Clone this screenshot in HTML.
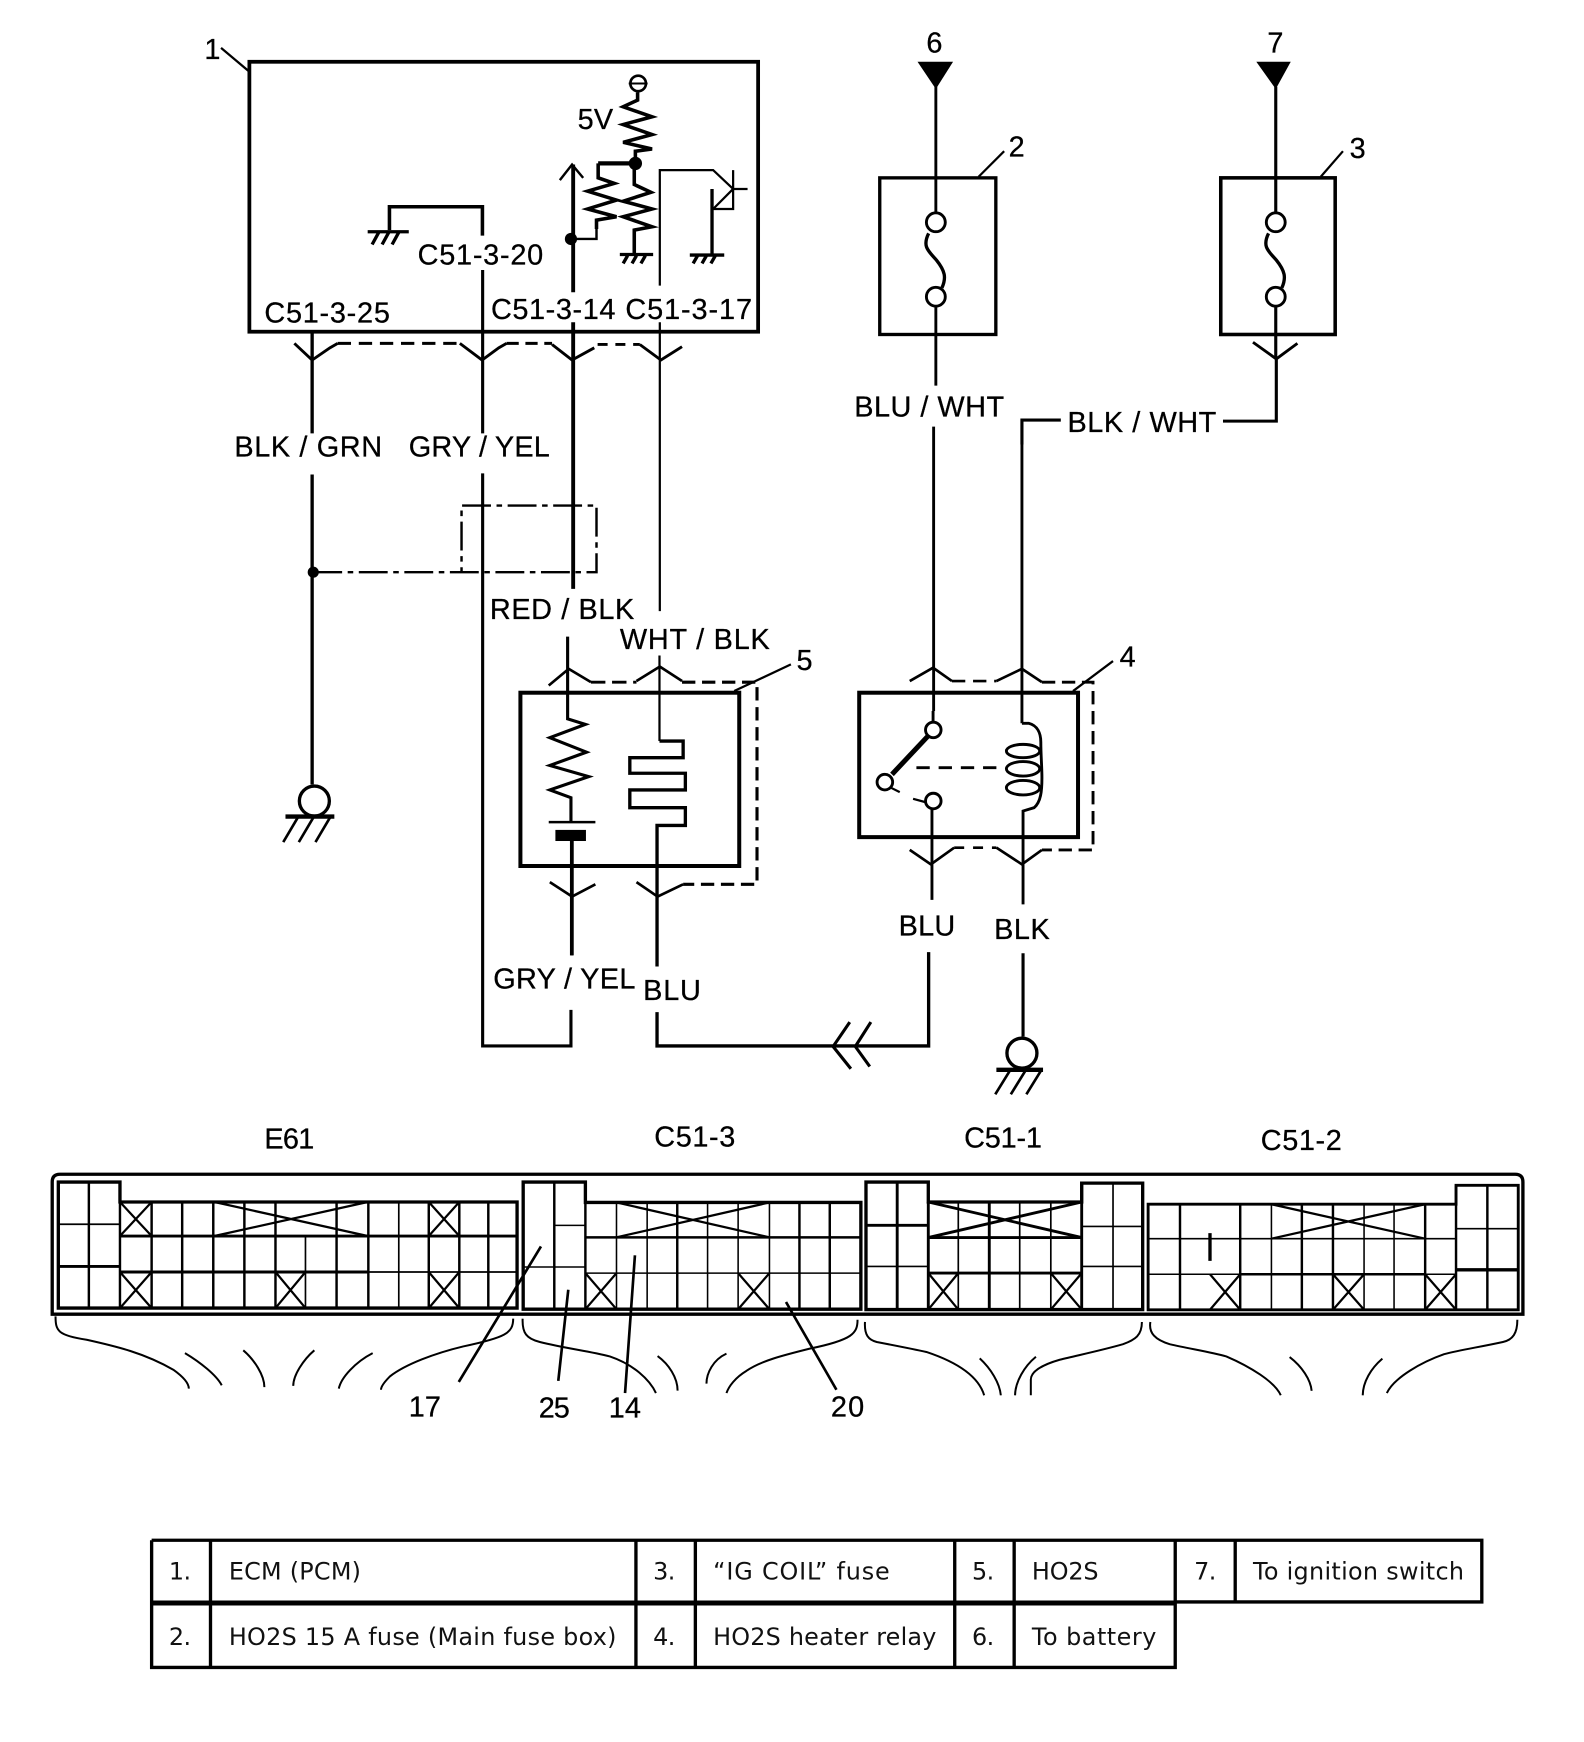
<!DOCTYPE html>
<html><head><meta charset="utf-8">
<style>
html,body{margin:0;padding:0;background:#fff}
svg{display:block}
text{font-family:"Liberation Sans",sans-serif;font-size:26px;fill:#000;stroke:#000;stroke-width:.25px}
.t text{font-family:"DejaVu Sans",sans-serif;font-size:21.5px;fill:#111;stroke:none}
.s{fill:none;stroke:#000;stroke-linejoin:miter}
</style></head><body>
<svg width="1584" height="1742" viewBox="0 0 1426 1568" xmlns="http://www.w3.org/2000/svg">
<rect width="1426" height="1568" fill="#fff"/>

<!-- ECM -->
<rect class="s" x="224.5" y="55.5" width="458" height="243" stroke-width="3.4"/>
<path class="s" stroke-width="2" d="M199,43L224,64"/>
<path class="s" stroke-width="3.2" d="M350.6,207V186H434.3V212"/>
<path class="s" stroke-width="3" d="M331,208.5H368M335,220L341,209M344,220L350,209M353,220L359,209"/>
<path class="s" stroke-width="2.8" d="M434.5,243V390M434.5,426V941.5H514V909M514.5,860V757"/>
<path class="s" stroke-width="3" d="M281,300V390M281,427V706"/>
<path class="s" stroke-width="3.5" d="M516,148V263M516,290V530"/>
<path class="s" stroke-width="2.2" d="M504,162L515,148L525,160"/>
<circle cx="514" cy="215" r="5.5"/>
<path class="s" stroke-width="2.2" d="M516,215H537V206"/>
<path class="s" stroke-width="3.2" d="M537,206V198L555,195L529,188L555,180L529,172L553,165L538.5,160V147"/>
<path class="s" stroke-width="3.8" d="M538.5,147H572"/>
<circle cx="572" cy="147" r="6"/>
<circle class="s" cx="574.5" cy="75" r="7" fill="#fff" stroke-width="2.4"/>
<path class="s" stroke-width="1.8" d="M566,75H583"/>
<path class="s" stroke-width="3.2" d="M574,83V90L561,96L587,105L561,112L587,121L561,128L587,134L572,136V147"/>
<path class="s" stroke-width="3.2" d="M571,147V166L586,173L561,181L587,188L561,195L587,204L571,207V229"/>
<path class="s" stroke-width="3" d="M558,229H588M561,237L565,230M569,237L573,230M577,237L581,230"/>
<path class="s" stroke-width="2" d="M594,257V153H642L660,170"/>
<path class="s" stroke-width="2" d="M660,153V188H642L660,170M660,170H673"/>
<path class="s" stroke-width="3" d="M641,170V229"/>
<path class="s" stroke-width="3" d="M621,229.5H652M624,237L628,230M632,237L636,230M640,237L644,230"/>
<path class="s" stroke-width="2" d="M594,290V550M593.7,590V667"/>

<!-- connector wings under ECM -->
<path class="s" stroke-width="2.6" d="M265,309L281,324L297,313L304,309M414,309L434,324L449,313L456,309M497,310L515,324L535,313M576,310L595,324L614,312"/>
<path class="s" stroke-width="2.6" stroke-dasharray="12 7" d="M304,309H414"/>
<path class="s" stroke-width="2.6" stroke-dasharray="11 6" d="M456,309H497"/>
<path class="s" stroke-width="2.6" stroke-dasharray="9 7" d="M538,310H576"/>

<!-- shield -->
<path class="s" stroke-width="2.2" stroke-dasharray="26 5 5 5" d="M282,515H537V455H415.5V515"/>
<circle cx="282" cy="515" r="5"/>

<!-- ground left -->
<circle class="s" cx="283" cy="721" r="13.5" stroke-width="3" fill="#fff"/>
<path class="s" stroke-width="4" d="M257,735H301"/>
<path class="s" stroke-width="2.4" d="M268,736L255,758M282,736L269,758M297,736L284,758"/>

<!-- HO2S box 5 -->
<rect class="s" x="468.5" y="623.5" width="197" height="156" stroke-width="3.6"/>
<path class="s" stroke-width="2.8" d="M511,573V647L527,652L495,664L528,677L495,689L530,699L495,711L514,718V740"/>
<path class="s" stroke-width="2.2" d="M494,740H536"/>
<rect x="500" y="747" width="27.5" height="10"/>
<path class="s" stroke-width="3" d="M515,757V860"/>
<path class="s" stroke-width="3" d="M593.7,667H615V682H567V696H617V711H567V727H617V743H591.5V870M591.5,911V941.5H836V857"/>
<path class="s" stroke-width="2.4" d="M494,617L512,602L532,614M573,613L594,600L614,613"/>
<path class="s" stroke-width="2.6" stroke-dasharray="13 6" d="M532,614H573"/>
<path class="s" stroke-width="2.8" stroke-dasharray="12 6" d="M614,614H681.5V796H615"/>
<path class="s" stroke-width="2.4" d="M495,794L515,807L536,796M573,794L592,807L615,796"/>
<path class="s" stroke-width="2" d="M661,622L712,598"/>

<!-- fuse 2 -->
<rect class="s" x="792" y="160" width="104.5" height="141" stroke-width="3"/>
<path d="M826,55.5H858L842.5,80Z"/>
<path class="s" stroke-width="2.6" d="M842.5,78V191M842.5,276V347M840.5,384V640"/>
<circle class="s" cx="842.5" cy="200" r="8.5" fill="#fff" stroke-width="2.6"/>
<circle class="s" cx="842.5" cy="267" r="8.5" fill="#fff" stroke-width="2.6"/>
<path class="s" stroke-width="3" d="M836,210C830,222 836,226 843,234C851,244 852,250 848,259"/>
<path class="s" stroke-width="2" d="M881,159L904,136"/>

<!-- fuse 3 -->
<rect class="s" x="1099" y="160" width="103" height="141" stroke-width="3.2"/>
<path d="M1131,55.5H1162L1148.5,80Z"/>
<path class="s" stroke-width="2.8" d="M1148.5,78V191M1148.5,276V322M1149,322V379H1101"/>
<circle class="s" cx="1148.5" cy="200" r="8.5" fill="#fff" stroke-width="2.6"/>
<circle class="s" cx="1148.5" cy="267" r="8.5" fill="#fff" stroke-width="2.6"/>
<path class="s" stroke-width="3" d="M1142,210C1136,222 1142,226 1149,234C1157,244 1158,250 1154,259"/>
<path class="s" stroke-width="2.6" d="M1128,308L1149,323L1168,309"/>
<path class="s" stroke-width="2" d="M1189,159L1209,136"/>
<path class="s" stroke-width="2.8" d="M955,378H920V400"/>
<path class="s" stroke-width="2.6" d="M920,378V651"/>

<!-- relay 4 -->
<rect class="s" x="773.5" y="623.5" width="197" height="130" stroke-width="3.6"/>
<circle class="s" cx="840.2" cy="657" r="7" fill="#fff" stroke-width="2.6"/>
<circle class="s" cx="796.6" cy="704" r="7" fill="#fff" stroke-width="2.6"/>
<circle class="s" cx="840.2" cy="721" r="7" fill="#fff" stroke-width="2.6"/>
<path class="s" stroke-width="4.5" d="M803,697L835,663"/>
<path class="s" stroke-width="2" d="M802,709L810,713M822,719L833,722"/>
<path class="s" stroke-width="2.6" stroke-dasharray="12 8" d="M825,691H901"/>
<path class="s" stroke-width="2.6" d="M840,640V650M839,728V810"/>
<path class="s" stroke-width="2.6" d="M920,651H926C934,653 937,660 937,668C937,680 938,690 938,700C938,712 937,722 931,727L921,730V814"/>
<ellipse class="s" cx="921" cy="676" rx="15" ry="6" stroke-width="2.6"/>
<ellipse class="s" cx="921" cy="692" rx="15" ry="6.5" stroke-width="2.6"/>
<ellipse class="s" cx="921" cy="709" rx="15" ry="6.5" stroke-width="2.6"/>
<path class="s" stroke-width="2.4" d="M819,613L840,601L857,613M897,613L920,602L938,614"/>
<path class="s" stroke-width="2.4" stroke-dasharray="12 7" d="M857,613H897"/>
<path class="s" stroke-width="2.6" stroke-dasharray="12 6" d="M938,614H984V765H938"/>
<path class="s" stroke-width="2.4" d="M819,765L838,778L859,763M897,763L920,778L938,765"/>
<path class="s" stroke-width="2.4" stroke-dasharray="9 8" d="M859,763H897"/>
<path class="s" stroke-width="2" d="M966,622L1002,595"/>
<path class="s" stroke-width="2.8" d="M921,858V933"/>
<circle class="s" cx="920" cy="948" r="13.5" stroke-width="3" fill="#fff"/>
<path class="s" stroke-width="4" d="M897,963H939"/>
<path class="s" stroke-width="2.4" d="M909,964L896,985M923,964L910,985M937,964L924,985"/>
<path class="s" stroke-width="2.8" d="M765,920L750,942L766,962M784,920L770,942L783,960"/>

<!-- Connector panel -->
<path class="s" stroke-width="3" d="M47,1064Q47,1057 54,1057H1364Q1371,1057 1371,1064V1183H47Z"/>

<!-- E61 -->
<path class="s" stroke-width="3" d="M52.5,1177.5V1064H108V1082H465.5V1177.5Z"/>
<path class="s" stroke-width="2.2" d="M80,1064V1177.5M108,1082V1177.5M136.5,1082V1177.5M164,1082V1177.5M192,1082V1177.5M220,1082V1177.5M248,1082V1177.5M303,1082V1177.5M331.6,1082V1177.5M386,1082V1177.5M413.5,1082V1177.5M439.6,1082V1177.5"/>
<path class="s" stroke-width="2.6" d="M108,1112.6H465.5M108,1145H331M52.5,1140H108"/>
<path class="s" stroke-width="1.5" d="M331,1145H465M275,1112V1177M359,1082V1177M52.5,1102H108"/>
<path class="s" stroke-width="2" d="M108,1082L136.5,1112.6M136.5,1082L108,1112.6M108,1145L136.5,1177.5M136.5,1145L108,1177.5M386,1082L413.5,1112.6M413.5,1082L386,1112.6M386,1145L413.5,1177.5M413.5,1145L386,1177.5M248,1145L275,1177.5M275,1145L248,1177.5M193,1082L331,1112.6M331,1082L193,1112.6"/>

<!-- C51-3 -->
<path class="s" stroke-width="3" d="M471,1178.5V1064H527V1082.4H775V1178.5Z"/>
<path class="s" stroke-width="2.2" d="M499,1064V1178.5M527,1082.4V1178.5M609.7,1082.4V1178.5M719.7,1082.4V1178.5M747,1082.4V1178.5M527,1113.8H775"/>
<path class="s" stroke-width="1.4" d="M555,1082.4V1178.5M582.6,1082.4V1178.5M637,1082.4V1178.5M664.5,1082.4V1178.5M692.7,1082.4V1178.5M527,1146H775M499,1103H527M471,1140.5H527"/>
<path class="s" stroke-width="2" d="M527,1146L555,1178.5M555,1146L527,1178.5M664.5,1146L692.7,1178.5M692.7,1146L664.5,1178.5M555,1082.4L692.7,1113.8M692.7,1082.4L555,1113.8"/>

<!-- C51-1 -->
<path class="s" stroke-width="3" d="M779.6,1178.8V1064H835.7V1082H973.8V1065H1028.7V1178.8Z"/>
<path class="s" stroke-width="2.6" d="M807.7,1064V1178.8M835.7,1082V1178.8M890.6,1082V1178.8M779.6,1103H835.7M835.7,1114H973.8M835.7,1146H973.8M973.8,1065V1178.8"/>
<path class="s" stroke-width="1.5" d="M862.7,1082V1178.8M918,1082V1178.8M946,1082V1178.8M1002,1065V1178.8M973.8,1104H1028.7M779.6,1140H835.7M973.8,1140H1028.7"/>
<path class="s" stroke-width="2" d="M835.7,1146L862.7,1178.8M862.7,1146L835.7,1178.8M946,1146L973.8,1178.8M973.8,1146L946,1178.8"/>
<path class="s" stroke-width="2.6" d="M835.7,1082L973.8,1114M973.8,1082L835.7,1114"/>

<!-- C51-2 -->
<path class="s" stroke-width="2.6" d="M1033.6,1179V1084H1310.8V1067H1366.8V1179Z"/>
<path class="s" stroke-width="2.2" d="M1062.3,1084V1179M1116.5,1084V1179M1172,1084V1179M1200,1084V1179M1283,1084V1179M1339,1067V1179M1310.8,1067V1179M1116,1147H1283"/>
<path class="s" stroke-width="1.4" d="M1033.6,1115H1310.8M1033.6,1147H1116M1228,1084V1179M1255,1084V1179M1283,1147H1311M1144.6,1084V1179M1310.8,1106H1366.8"/>
<path class="s" stroke-width="3" d="M1310.8,1143H1366.8M1089.3,1110V1135"/>
<path class="s" stroke-width="2" d="M1089.3,1147L1116.5,1179M1116.5,1147L1089.3,1179M1200,1147L1228,1179M1228,1147L1200,1179M1283,1147L1310.8,1179M1310.8,1147L1283,1179M1144.6,1084L1283,1115M1283,1084L1144.6,1115"/>

<!-- braces -->
<g class="s" fill="none" stroke="#000" stroke-width="1.8">
<path d="M50,1185C50,1198 52,1202 78,1206C105,1212 130,1218 156,1233C163,1238 170,1244 170,1250"/>
<path d="M462,1187C462,1200 455,1204 417,1212C392,1218 365,1228 351,1239C346,1244 343,1248 343,1251"/>
<path d="M166.5,1218C180,1226 195,1238 199.6,1247M219,1215.5C229,1224 238,1238 238,1248.6M283,1215.5C273,1224 264,1238 264,1247.5M335.5,1218C320,1226 307,1240 305,1250"/>
<path d="M470.5,1187C470,1200 474,1205 486,1208C510,1214 530,1216 549,1221C570,1228 585,1242 590.5,1254"/>
<path d="M772,1188C772,1200 768,1206 729,1214C705,1220 685,1225 672,1234C662,1240 656,1248 654,1254"/>
<path d="M592,1220.7C602,1228 610,1240 610,1251.8M654,1218.5C642,1224 636,1236 636,1245.5"/>
<path d="M778.7,1190C778,1202 782,1206 789.3,1208C810,1212 825,1215 834,1217C855,1224 880,1236 886,1256"/>
<path d="M1028,1190C1028,1202 1022,1206 1011,1210C990,1216 970,1220 954,1224C940,1228 928,1234 928,1242V1256"/>
<path d="M882,1222.8C892,1232 900,1245 901,1256M932.6,1221.3C922,1230 914,1244 913.8,1256"/>
<path d="M1035.6,1190C1034,1200 1040,1206 1053,1210C1070,1214 1090,1217 1104,1221C1125,1230 1148,1244 1153,1256"/>
<path d="M1366,1188C1366,1200 1362,1206 1353,1208C1330,1213 1315,1215 1300,1219C1280,1226 1255,1240 1248.5,1254"/>
<path d="M1161,1221.6C1172,1230 1180,1242 1180.8,1252M1244.5,1223C1234,1232 1227,1244 1226.8,1256"/>
</g>
<path class="s" stroke-width="2.4" d="M487,1122L413,1244M511.6,1161L502.6,1243M571.6,1130L562.7,1254M707.6,1172L753,1251"/>

<!-- labels -->
<text x="184" y="53" textLength="12">1</text>
<text x="238" y="290" textLength="113">C51-3-25</text>
<text x="376" y="238" textLength="113">C51-3-20</text>
<text x="442" y="287" textLength="112">C51-3-14</text>
<text x="563" y="287" textLength="114">C51-3-17</text>
<text x="520" y="116" textLength="32">5V</text>
<text x="211" y="411" textLength="133">BLK / GRN</text>
<text x="368" y="411" textLength="127">GRY / YEL</text>
<text x="441" y="557" textLength="130">RED / BLK</text>
<text x="558" y="584" textLength="135">WHT / BLK</text>
<text x="444" y="890" textLength="128">GRY / YEL</text>
<text x="579" y="900" textLength="52">BLU</text>
<text x="769" y="375" textLength="135">BLU / WHT</text>
<text x="961" y="389" textLength="134">BLK / WHT</text>
<text x="809" y="842" textLength="51">BLU</text>
<text x="895" y="845" textLength="50">BLK</text>
<text x="834" y="47" textLength="15">6</text>
<text x="1141" y="47" textLength="15">7</text>
<text x="908" y="141" textLength="15">2</text>
<text x="1215" y="142" textLength="15">3</text>
<text x="1008" y="600" textLength="15">4</text>
<text x="717" y="603" textLength="15">5</text>
<text x="238" y="1034" textLength="45">E61</text>
<text x="589" y="1032" textLength="73">C51-3</text>
<text x="868" y="1033" textLength="70">C51-1</text>
<text x="1135" y="1035" textLength="73">C51-2</text>
<text x="368" y="1275" textLength="29">17</text>
<text x="485" y="1276" textLength="28">25</text>
<text x="548" y="1276" textLength="29">14</text>
<text x="748" y="1275" textLength="30">20</text>

<!-- table -->
<path class="s" stroke-width="3" d="M136.5,1386.5H1334V1442H1058M136.5,1386.5V1501H1058V1386.5M189.5,1386.5V1501M572.5,1386.5V1501M626,1386.5V1501M859.5,1386.5V1501M913,1386.5V1501M1112,1386.5V1442"/>
<path class="s" stroke-width="4.5" d="M136.5,1443H1058"/>
<g class="t">
<text x="152" y="1422" textLength="20">1.</text>
<text x="206" y="1422" textLength="119">ECM (PCM)</text>
<text x="588" y="1422" textLength="20">3.</text>
<text x="642" y="1422" textLength="159">“IG COIL” fuse</text>
<text x="875" y="1422" textLength="20">5.</text>
<text x="929" y="1422" textLength="60">HO2S</text>
<text x="1075" y="1422" textLength="20">7.</text>
<text x="1128" y="1422" textLength="190">To ignition switch</text>
<text x="152" y="1481" textLength="20">2.</text>
<text x="206" y="1481" textLength="349">HO2S 15 A fuse (Main fuse box)</text>
<text x="588" y="1481" textLength="20">4.</text>
<text x="642" y="1481" textLength="201">HO2S heater relay</text>
<text x="875" y="1481" textLength="20">6.</text>
<text x="929" y="1481" textLength="112">To battery</text>
</g>
</svg>
</body></html>
